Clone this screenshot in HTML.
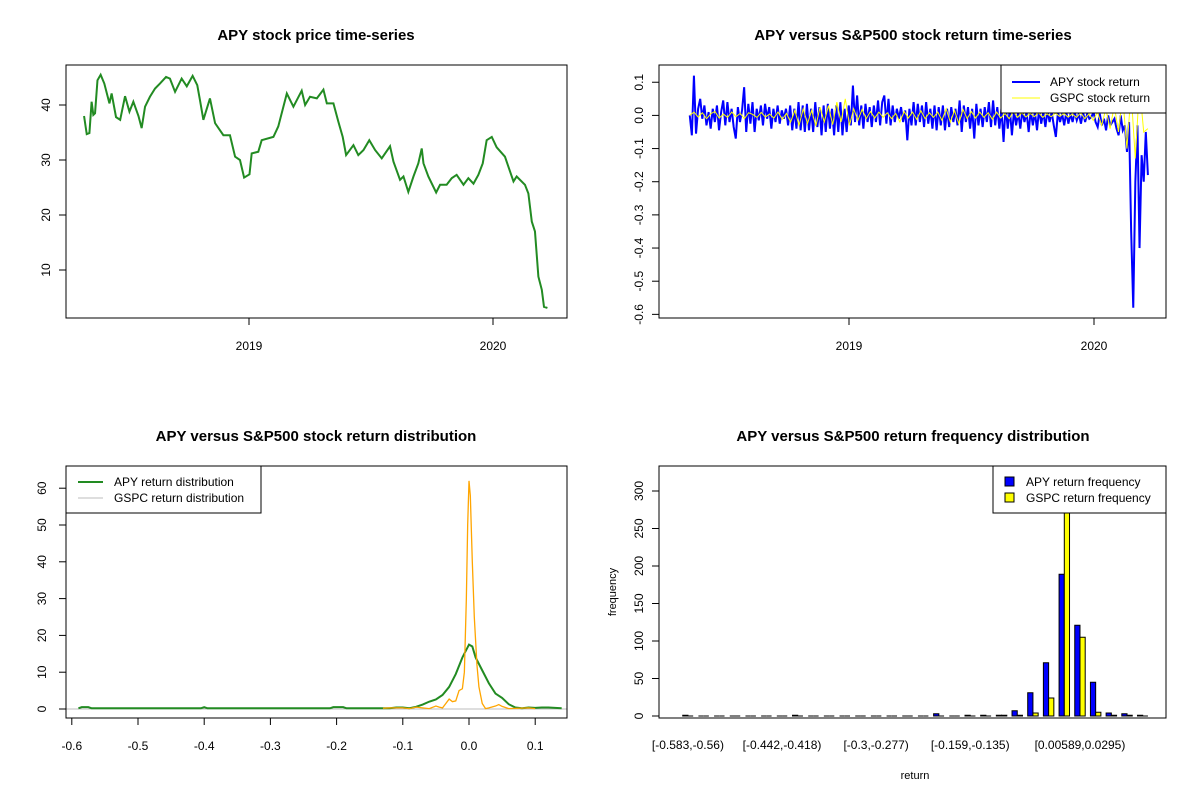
<!DOCTYPE html>
<html><head><meta charset="utf-8"><style>
body{margin:0;background:#fff;}
svg{display:block;font-family:"Liberation Sans",Arial,sans-serif;}
</style></head><body>
<svg id="c" width="1200" height="800" viewBox="0 0 1200 800" xmlns="http://www.w3.org/2000/svg"></svg>
<script>
// ---------- DATA ----------
const priceDates=[2018.324,2018.335,2018.346,2018.355,2018.362,2018.369,2018.379,2018.392,2018.407,2018.428,2018.437,2018.455,2018.472,2018.492,2018.510,2018.526,2018.547,2018.560,2018.574,2018.594,2018.615,2018.635,2018.660,2018.676,2018.697,2018.724,2018.745,2018.769,2018.788,2018.799,2018.813,2018.840,2018.861,2018.895,2018.922,2018.943,2018.963,2018.980,2019.002,2019.011,2019.038,2019.052,2019.100,2019.120,2019.155,2019.182,2019.216,2019.230,2019.250,2019.278,2019.305,2019.319,2019.346,2019.366,2019.384,2019.398,2019.428,2019.448,2019.469,2019.493,2019.517,2019.544,2019.578,2019.592,2019.619,2019.633,2019.653,2019.674,2019.694,2019.708,2019.715,2019.735,2019.767,2019.783,2019.810,2019.831,2019.851,2019.879,2019.899,2019.920,2019.940,2019.958,2019.974,2019.995,2020.015,2020.049,2020.084,2020.097,2020.131,2020.145,2020.159,2020.172,2020.186,2020.200,2020.209,2020.223];
const priceValues=[38.0,34.7,34.9,40.6,38.2,38.5,44.5,45.5,43.9,40.3,42.1,37.8,37.3,41.6,38.8,40.6,38.0,35.8,39.7,41.5,43.0,43.9,45.1,44.8,42.4,44.8,43.4,45.3,43.6,40.9,37.3,41.2,36.7,34.5,34.5,30.6,30.0,26.8,27.4,31.2,31.5,33.6,34.2,36.1,42.1,39.7,42.6,40.0,41.5,41.2,42.8,40.3,40.3,37.0,34.2,30.9,32.7,30.9,31.8,33.6,31.8,30.3,32.5,29.7,26.4,27.0,24.2,27.0,29.4,32.1,29.4,27.0,24.1,25.5,25.5,26.7,27.3,25.5,26.7,25.7,27.3,29.4,33.6,34.2,32.3,30.6,26.1,27.0,25.5,23.9,18.8,17.0,8.8,6.4,3.3,3.1];
const priceYTicks=[10,20,30,40];
const yearTicks=[2019,2020];

const apyRetStart=2018.35, apyRetEnd=2020.22;
const apyReturns=[0,-0.06,0.12,-0.055,0.02,0.05,-0.01,0.03,-0.03,0.01,-0.04,0.02,-0.02,0.03,-0.045,0.01,0.045,-0.03,0.04,-0.02,
0.02,-0.035,-0.07,0.025,-0.02,0.015,0.085,-0.05,0.035,-0.025,0.04,-0.05,0.02,-0.015,0.03,-0.03,0.035,-0.01,0.025,-0.04,
0.02,-0.02,0.03,-0.025,0.015,-0.01,0.02,-0.03,0.03,-0.045,0.02,-0.04,0.04,-0.045,0.03,-0.05,0.035,-0.045,0.02,-0.05,
0.04,-0.035,0.025,-0.06,0.03,-0.05,0.035,-0.04,0.02,-0.06,0.03,-0.05,0.04,-0.06,0.02,-0.05,0.03,-0.03,0.09,-0.02,
0.06,-0.03,0.03,-0.04,0.035,-0.02,0.025,-0.035,0.03,-0.02,0.045,-0.03,0.04,0.06,-0.025,0.05,-0.03,0.03,-0.02,0.02,
-0.01,0.025,-0.02,0.015,-0.075,0.02,-0.03,0.04,-0.03,0.035,-0.02,0.03,-0.035,0.04,-0.025,0.02,-0.04,0.03,-0.045,0.025,
-0.03,0.03,-0.045,0.02,-0.035,0.025,-0.02,0.02,-0.03,0.045,-0.05,0.03,-0.02,0.025,-0.04,0.02,-0.07,0.035,-0.03,0.02,
-0.035,0.025,-0.02,0.04,-0.035,0.045,-0.03,0.025,-0.04,0.02,-0.08,0.03,-0.04,0.02,-0.06,0.015,-0.03,0.01,-0.04,0.015,
-0.02,0.01,-0.05,0.015,-0.03,0.01,-0.045,0.02,-0.025,0.01,-0.035,0.015,-0.02,0.01,-0.03,-0.065,0.01,-0.02,0.005,-0.03,
0.01,-0.025,0.005,-0.02,0.01,-0.015,0.005,-0.025,0.01,-0.02,0.005,-0.01,-0.005,0.01,-0.02,-0.035,0.005,-0.03,-0.01,-0.045,
0.0,-0.03,-0.02,-0.01,-0.04,-0.06,0.0,-0.045,-0.03,-0.11,-0.02,-0.35,-0.58,-0.2,-0.03,-0.4,-0.12,-0.2,-0.05,-0.18];
const gspcRetStart=2018.35, gspcRetEnd=2020.22;
const gspcReturns=[0,0.01,-0.005,0.008,-0.01,0.005,0.012,-0.008,0.004,-0.006,0.01,-0.004,0.006,-0.01,0.008,0.003,-0.006,0.009,-0.005,0.004,
-0.008,0.01,-0.012,0.006,-0.02,0.015,-0.03,0.02,-0.025,0.015,-0.032,0.025,-0.02,0.03,-0.028,0.04,-0.02,0.05,-0.03,0.02,
-0.015,0.018,-0.01,0.012,-0.008,0.01,-0.006,0.008,-0.01,0.006,-0.02,0.012,-0.008,0.01,-0.012,0.014,-0.01,0.008,-0.006,0.01,
-0.015,0.02,-0.02,0.015,-0.025,0.018,-0.01,0.012,-0.008,0.01,-0.006,0.008,-0.012,0.01,-0.008,0.006,-0.01,0.012,-0.006,0.008,
-0.005,0.006,-0.004,0.008,-0.006,0.005,-0.004,0.007,-0.003,0.006,-0.005,0.004,-0.006,0.008,-0.01,0.005,-0.015,0.01,-0.03,0.02,
-0.04,0.03,-0.05,0.06,-0.1,0.07,-0.13,0.09,-0.05,-0.04];
const retYTicks=[0.1,0,-0.1,-0.2,-0.3,-0.4,-0.5,-0.6];
const retYLabels=["0.1","0.0","-0.1","-0.2","-0.3","-0.4","-0.5","-0.6"];

const apyDensX=[-0.59,-0.585,-0.575,-0.57,-0.405,-0.4,-0.395,-0.21,-0.205,-0.19,-0.185,-0.12,-0.11,-0.1,-0.09,-0.08,-0.07,-0.06,-0.05,-0.04,-0.03,-0.02,-0.01,0,0.005,0.01,0.02,0.03,0.04,0.05,0.06,0.07,0.08,0.09,0.1,0.11,0.12,0.14];
const apyDens=[0.2,0.5,0.5,0.2,0.2,0.5,0.2,0.2,0.5,0.5,0.2,0.2,0.4,0.4,0.2,0.6,1.2,2,2.6,3.8,6,9.5,14,17.5,17,14,10.5,7,4.2,3,1.3,0.4,0.2,0.4,0.3,0.4,0.4,0.2];
const gspcDensX=[-0.13,-0.12,-0.1,-0.09,-0.08,-0.06,-0.05,-0.045,-0.04,-0.035,-0.03,-0.025,-0.02,-0.015,-0.01,-0.007,-0.004,-0.002,0,0.002,0.005,0.008,0.012,0.015,0.02,0.025,0.03,0.04,0.045,0.05,0.06,0.09,0.1];
const gspcDens=[0.2,0.3,0.3,0.1,0.5,0.1,0.8,0.5,0.3,1.5,2.7,2,2.2,5,5.5,10,30,50,62,58,40,25,12,6,1.5,0.1,0.3,0.8,1.2,0.7,0.1,0.3,0.1];
const densXTicks=[-0.6,-0.5,-0.4,-0.3,-0.2,-0.1,0,0.1];
const densXLabels=["-0.6","-0.5","-0.4","-0.3","-0.2","-0.1","0.0","0.1"];
const densYTicks=[0,10,20,30,40,50,60];

const histApy=[1,0,0,0,0,0,0,1,0,0,0,0,0,0,0,0,3,0,1,1,1,7,31,71,189,121,45,4,3,1];
const histGspc=[0,0,0,0,0,0,0,0,0,0,0,0,0,0,0,0,0,0,0,0,1,1,4,24,320,105,5,1,1,0];
const histLabelIdx=[0,6,12,18,25];
const histLabels=["[-0.583,-0.56)","[-0.442,-0.418)","[-0.3,-0.277)","[-0.159,-0.135)","[0.00589,0.0295)"];
const histYTicks=[0,50,100,150,200,250,300];

// ---------- HELPERS ----------
const NS="http://www.w3.org/2000/svg";
const svg=document.getElementById('c');
function mk(tag,attrs,parent){const e=document.createElementNS(NS,tag);for(const k in attrs)e.setAttribute(k,attrs[k]);(parent||svg).appendChild(e);return e;}
function txt(x,y,s,size,extra,parent){const t=mk('text',Object.assign({x:x,y:y,'font-size':size,'text-anchor':'middle',fill:'#000'},extra||{}),parent);t.textContent=s;return t;}
function rtxt(x,y,s,size,parent){const t=mk('text',{transform:`translate(${x},${y}) rotate(-90)`,'font-size':size,'text-anchor':'middle',fill:'#000'},parent);t.textContent=s;return t;}

// ---------- PANEL 1 ----------
{
const g=mk('g',{});


const X=t=>249+(t-2019)*244, Y=v=>325-5.5*v;
const title=txt(316,40,'APY stock price time-series',15,{'font-weight':'bold'},g);


const box=mk('rect',{x:66,y:65,width:501,height:253,fill:'none',stroke:'#000','stroke-width':1},g);


priceYTicks.forEach(v=>{mk('line',{x1:59,x2:66,y1:Y(v),y2:Y(v),stroke:'#000'},g);
 const l=rtxt(50,Y(v),String(v),12,g);
 
 });
yearTicks.forEach(t=>{mk('line',{x1:X(t),x2:X(t),y1:318,y2:325,stroke:'#000'},g);
 const l=txt(X(t),350,String(t),12,{},g);
 
 });
const p=mk('polyline',{points:priceDates.map((t,i)=>X(t)+','+Y(priceValues[i])).join(' '),fill:'none',stroke:'#228b22','stroke-width':2},g);


}

// ---------- PANEL 2 ----------
{
const g=mk('g',{});


const X=t=>849+(t-2019)*245, Y=v=>115.4-331.6*v;
const title=txt(913,40,'APY versus S&P500 stock return time-series',15,{'font-weight':'bold'},g);


retYTicks.forEach((v,i)=>{mk('line',{x1:652,x2:659,y1:Y(v),y2:Y(v),stroke:'#000'},g);
 const l=rtxt(643,Y(v),retYLabels[i],12,g);
 
 });
yearTicks.forEach(t=>{mk('line',{x1:X(t),x2:X(t),y1:318,y2:325,stroke:'#000'},g);
 const l=txt(X(t),350,String(t),12,{},g);
 
 });
const da=(apyRetEnd-apyRetStart)/(apyReturns.length-1);
const a=mk('polyline',{points:apyReturns.map((v,i)=>X(apyRetStart+i*da)+','+Y(v)).join(' '),fill:'none',stroke:'#0000ff','stroke-width':2},g);


const dg=(gspcRetEnd-gspcRetStart)/(gspcReturns.length-1);
const b=mk('polyline',{points:gspcReturns.map((v,i)=>X(gspcRetStart+i*dg)+','+Y(v)).join(' '),fill:'none',stroke:'#ffff00','stroke-width':1},g);


const box=mk('rect',{x:659,y:65,width:507,height:253,fill:'none',stroke:'#000'},g);


const lg=mk('g',{},g);


mk('rect',{x:1001,y:65,width:165,height:48,fill:'#fff',stroke:'#000'},lg);
mk('line',{x1:1012,x2:1040,y1:82,y2:82,stroke:'#0000ff','stroke-width':2},lg);
mk('line',{x1:1012,x2:1040,y1:98,y2:98,stroke:'#ffff00','stroke-width':1},lg);
const e1=txt(1050,86,'APY stock return',12,{'text-anchor':'start'},lg);


const e2=txt(1050,102,'GSPC stock return',12,{'text-anchor':'start'},lg);


}

// ---------- PANEL 3 ----------
{
const g=mk('g',{});


const X=v=>469+662*v, Y=v=>709-3.68*v;
const title=txt(316,441,'APY versus S&P500 stock return distribution',15,{'font-weight':'bold'},g);


densYTicks.forEach(v=>{mk('line',{x1:59,x2:66,y1:Y(v),y2:Y(v),stroke:'#000'},g);
 const l=rtxt(46,Y(v),String(v),12,g);
 
 });
densXTicks.forEach((v,i)=>{mk('line',{x1:X(v),x2:X(v),y1:718,y2:725,stroke:'#000'},g);
 const l=txt(X(v),750,densXLabels[i],12,{},g);
 
 });
mk('line',{x1:66,x2:567,y1:Y(0),y2:Y(0),stroke:'#bebebe'},g);
const a=mk('polyline',{points:apyDensX.map((x,i)=>X(x)+','+Y(apyDens[i])).join(' '),fill:'none',stroke:'#228b22','stroke-width':2},g);


const b=mk('polyline',{points:gspcDensX.map((x,i)=>X(x)+','+Y(gspcDens[i])).join(' '),fill:'none',stroke:'#ffa500','stroke-width':1.3},g);


const box=mk('rect',{x:66,y:466,width:501,height:252,fill:'none',stroke:'#000'},g);


const lg=mk('g',{},g);


mk('rect',{x:66,y:466,width:195,height:47,fill:'#fff',stroke:'#000'},lg);
mk('line',{x1:78,x2:103,y1:482,y2:482,stroke:'#228b22','stroke-width':2},lg);
mk('line',{x1:78,x2:103,y1:498,y2:498,stroke:'#bebebe','stroke-width':1},lg);
const e1=txt(114,486,'APY return distribution',12,{'text-anchor':'start'},lg);


const e2=txt(114,502,'GSPC return distribution',12,{'text-anchor':'start'},lg);


}

// ---------- PANEL 4 ----------
{
const g=mk('g',{});


const unit=5.227, x0=677.5;
const Y=v=>716-0.75*v;
const title=txt(913,441,'APY versus S&P500 return frequency distribution',15,{'font-weight':'bold'},g);


histYTicks.forEach(v=>{mk('line',{x1:652,x2:659,y1:Y(v),y2:Y(v),stroke:'#000'},g);
 const l=rtxt(643,Y(v),String(v),12,g);
 
 });
const yl=rtxt(616,592,'frequency',11,g);


const xl=txt(915,779,'return',11,{},g);


histApy.forEach((v,i)=>{
 const xa=x0+(3*i+1)*unit;
 const ba=mk('path',{d:`M${xa},${Y(0)}H${xa+unit}V${Y(v)}H${xa}Z`,fill:'#0000ff',stroke:'#000','stroke-width':1},g);
 
 
 const xb=xa+unit, w=histGspc[i];
 const bb=mk('path',{d:`M${xb},${Y(0)}H${xb+unit}V${Y(w)}H${xb}Z`,fill:'#ffff00',stroke:'#000','stroke-width':1},g);
 
 
});
histLabelIdx.forEach((idx,k)=>{
 const l=txt(x0+(3*idx+2)*unit,749,histLabels[k],12,{},g);
 
 });
const box=mk('rect',{x:659,y:466,width:507,height:252,fill:'none',stroke:'#000'},g);


const lg=mk('g',{},g);


mk('rect',{x:993,y:466,width:173,height:47,fill:'#fff',stroke:'#000'},lg);
mk('rect',{x:1005,y:477,width:9,height:9,fill:'#0000ff',stroke:'#000'},lg);
mk('rect',{x:1005,y:493,width:9,height:9,fill:'#ffff00',stroke:'#000'},lg);
const e1=txt(1026,486,'APY return frequency',12,{'text-anchor':'start'},lg);


const e2=txt(1026,502,'GSPC return frequency',12,{'text-anchor':'start'},lg);


}
</script>
</body></html>
